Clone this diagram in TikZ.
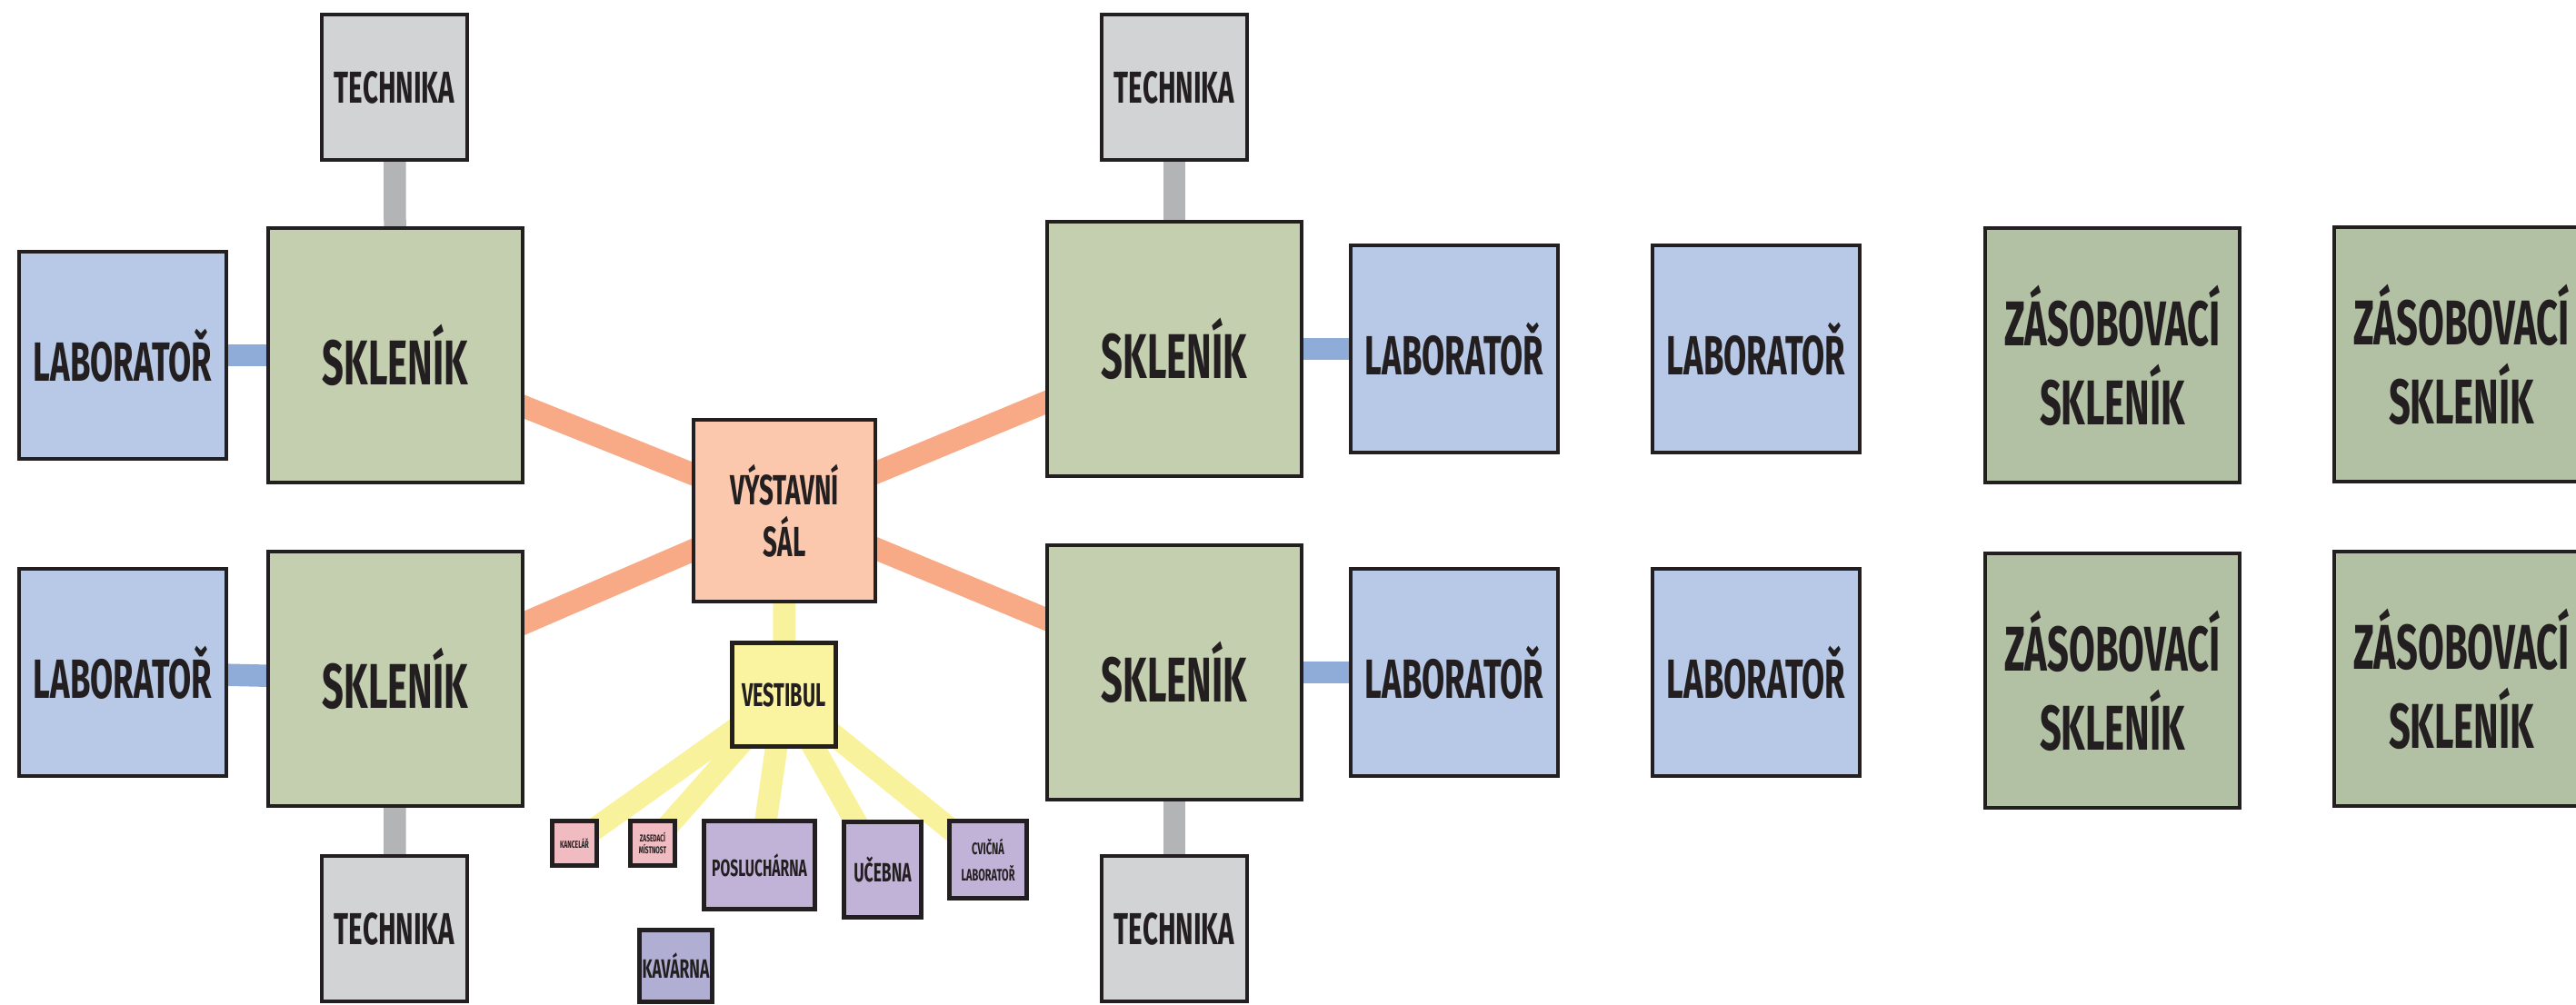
\documentclass[tikz,border=0pt]{standalone}
\usepackage{fontspec}
\setmainfont{Fira Sans}[FakeStretch=0.6]
\usetikzlibrary{backgrounds}

\definecolor{contorno}{HTML}{231F20}
\definecolor{cinza}{HTML}{D1D3D4}
\definecolor{cinzalig}{HTML}{B3B4B6}
\definecolor{azul}{HTML}{B8C9E7}
\definecolor{azullig}{HTML}{8FACD9}
\definecolor{verde}{HTML}{C4CFB0}
\definecolor{verdeesc}{HTML}{B2C0A4}
\definecolor{salmao}{HTML}{FBC8AD}
\definecolor{salmaolig}{HTML}{F8AA87}
\definecolor{amarelo}{HTML}{FAF4A0}
\definecolor{amarelolig}{HTML}{F9F29D}
\definecolor{rosa}{HTML}{F0BCC1}
\definecolor{lilas}{HTML}{C1B2D7}
\definecolor{lilasesc}{HTML}{B0AFD3}

\tikzset{
  sala/.style={rectangle, draw=contorno, line width=1.28pt, inner sep=0pt,
    align=center, text=contorno},
  tecnica/.style={sala, fill=cinza, minimum size=1.6cm,
    font=\fontsize{14}{17}\selectfont\bfseries},
  estufa/.style={sala, fill=verde, minimum size=2.8cm,
    font=\fontsize{19.8}{24.75}\selectfont\bfseries},
  reserva/.style={estufa, fill=verdeesc},
  lab/.style={sala, fill=azul, minimum size=2.28cm,
    font=\fontsize{17.3}{20}\selectfont\bfseries},
  salao/.style={sala, fill=salmao, minimum size=2.0cm,
    font=\fontsize{13.2}{16.2}\selectfont\bfseries},
  vestibulo/.style={sala, fill=amarelo, minimum size=1.14cm, line width=1.45pt,
    font=\fontsize{10.3}{12}\selectfont\bfseries},
  peq/.style={sala, line width=1.6pt},
  lig/.style={line width=0.245cm}
}

\begin{document}
\begin{tikzpicture}
        \useasboundingbox (0,0) rectangle (28.34,11.05);
        % Define os nos
        \node[tecnica] (tec1) at (4.34,10.09) {TECHNIKA};
        \node[estufa]  (est1) at (4.35,7.14)  {SKLENÍK};
        \node[lab]     (lab1) at (1.35,7.14)  {LABORATOŘ};
        \node[estufa]  (est2) at (4.35,3.58)  {SKLENÍK};
        \node[lab]     (lab2) at (1.35,3.65)  {LABORATOŘ};
        \node[tecnica] (tec2) at (4.34,0.83)  {TECHNIKA};
        \node[salao]   (sal)  at (8.63,5.43)  {VÝSTAVNÍ\\SÁL};
        \node[vestibulo] (ves) at (8.625,3.405) {VESTIBUL};
        \node[estufa]  (est3) at (12.92,7.21) {SKLENÍK};
        \node[estufa]  (est4) at (12.92,3.65) {SKLENÍK};
        \node[tecnica] (tec3) at (12.92,10.09) {TECHNIKA};
        \node[tecnica] (tec4) at (12.92,0.83) {TECHNIKA};
        \node[lab]     (lab3) at (16.00,7.21) {LABORATOŘ};
        \node[lab]     (lab4) at (16.00,3.65) {LABORATOŘ};
        \node[lab]     (lab5) at (19.32,7.21) {LABORATOŘ};
        \node[lab]     (lab6) at (19.32,3.65) {LABORATOŘ};
        \node[reserva] (res1) at (23.24,7.14) {ZÁSOBOVACÍ\\SKLENÍK};
        \node[reserva] (res2) at (27.08,7.15) {ZÁSOBOVACÍ\\SKLENÍK};
        \node[reserva] (res3) at (23.24,3.56) {ZÁSOBOVACÍ\\SKLENÍK};
        \node[reserva] (res4) at (27.08,3.58) {ZÁSOBOVACÍ\\SKLENÍK};
        % Salas pequenas
        \node[peq, fill=rosa, minimum size=0.49cm,
              font=\fontsize{3.2}{3.8}\selectfont\bfseries] (kan) at (6.32,1.77) {KANCELÁŘ};
        \node[peq, fill=rosa, minimum size=0.49cm,
              font=\fontsize{3.1}{3.8}\selectfont\bfseries] (zas) at (7.18,1.77) {ZASEDACÍ\\MÍSTNOST};
        \node[peq, fill=lilas, minimum width=1.22cm, minimum height=0.97cm,
              font=\fontsize{7.4}{9}\selectfont\bfseries] (pos) at (8.355,1.53) {POSLUCHÁRNA};
        \node[peq, fill=lilas, minimum width=0.85cm, minimum height=1.05cm,
              font=\fontsize{8.3}{10}\selectfont\bfseries] (uce) at (9.71,1.48) {UČEBNA};
        \node[peq, fill=lilas, minimum size=0.85cm,
              font=\fontsize{5.2}{8.25}\selectfont\bfseries] (cvi) at (10.87,1.59) {CVIČNÁ\\LABORATOŘ};
        \node[peq, fill=lilasesc, minimum width=0.80cm, minimum height=0.79cm,
              font=\fontsize{8.3}{10}\selectfont\bfseries] (kav) at (7.435,0.42) {KAVÁRNA};
        % Conecta nos
        \begin{pgfonlayer}{background}
        \draw[lig, cinzalig] (tec1.center) -- (est1.center);
        \draw[lig, cinzalig] (tec2.center) -- (est2.center);
        \draw[lig, cinzalig] (tec3.center) -- (est3.center);
        \draw[lig, cinzalig] (tec4.center) -- (est4.center);
        \draw[lig, azullig] (lab1.center) -- (est1.center);
        \draw[lig, azullig] (lab2.center) -- (est2.center);
        \draw[lig, azullig] (lab3.center) -- (est3.center);
        \draw[lig, azullig] (lab4.center) -- (est4.center);
        \draw[lig, salmaolig] (est1.center) -- (sal.center);
        \draw[lig, salmaolig] (est2.center) -- (sal.center);
        \draw[lig, salmaolig] (est3.center) -- (sal.center);
        \draw[lig, salmaolig] (est4.center) -- (sal.center);
        \draw[lig, amarelolig] (sal.center) -- (ves.center);
        \draw[lig, amarelolig] (ves.center) -- (kan.center);
        \draw[lig, amarelolig] (ves.center) -- (zas.center);
        \draw[lig, amarelolig] (ves.center) -- (pos.center);
        \draw[lig, amarelolig] (ves.center) -- (uce.center);
        \draw[lig, amarelolig] (ves.center) -- (cvi.center);
        \end{pgfonlayer}
    \end{tikzpicture}
\end{document}
